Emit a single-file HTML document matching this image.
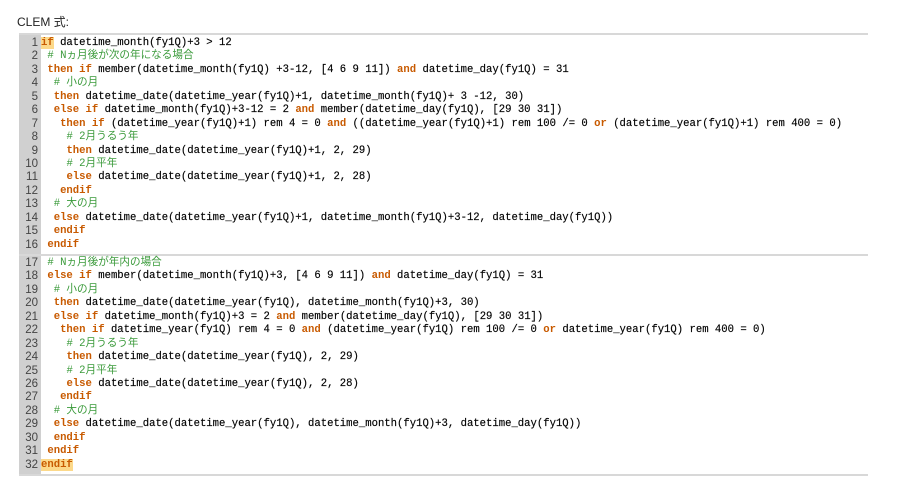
<!DOCTYPE html>
<html><head><meta charset="utf-8"><style>
body{margin:0;background:#fff;width:900px;height:492px;position:relative;overflow:hidden}
.t{position:absolute;left:17px;top:13px;font:12px "Liberation Sans","Noto Sans CJK JP",sans-serif;color:#222}
.box{position:absolute;left:19px;top:33px;width:849px;border-top:2px solid #d8d8d8;border-bottom:2px solid #d8d8d8}
.blk{position:relative;background:linear-gradient(to right,#d0d0d0 0,#d0d0d0 22px,#fff 22px)}
.blk+.blk{border-top:2px solid #d8d8d8}
.l{position:relative;height:13.45px;padding-left:22px;font:10.6px/13.45px "Liberation Mono","Noto Sans CJK JP",monospace;white-space:pre;color:#000;-webkit-text-stroke:0.15px #000}
.n{position:absolute;left:0;top:0;width:19px;text-align:right;color:#444;font:11.5px/13.45px "Liberation Sans",sans-serif;-webkit-text-stroke:0}
.k{color:#c85a00;font-weight:bold;-webkit-text-stroke:0}
.c{color:#3a9a3a;-webkit-text-stroke:0}
.h{background:#fcd98a}
</style></head><body>
<div class="t">CLEM 式:</div>
<div class="box">
<div class="blk" style="padding-top:2px;padding-bottom:2px">
<div class="l"><span class="n">1</span><span class="k h">if</span> datetime_month(fy1Q)+3 &gt; 12</div>
<div class="l"><span class="n">2</span> <span class="c"># Nヵ月後が次の年になる場合</span></div>
<div class="l"><span class="n">3</span> <span class="k">then if</span> member(datetime_month(fy1Q) +3-12, [4 6 9 11]) <span class="k">and</span> datetime_day(fy1Q) = 31</div>
<div class="l"><span class="n">4</span>  <span class="c"># 小の月</span></div>
<div class="l"><span class="n">5</span>  <span class="k">then</span> datetime_date(datetime_year(fy1Q)+1, datetime_month(fy1Q)+ 3 -12, 30)</div>
<div class="l"><span class="n">6</span>  <span class="k">else if</span> datetime_month(fy1Q)+3-12 = 2 <span class="k">and</span> member(datetime_day(fy1Q), [29 30 31])</div>
<div class="l"><span class="n">7</span>   <span class="k">then if</span> (datetime_year(fy1Q)+1) rem 4 = 0 <span class="k">and</span> ((datetime_year(fy1Q)+1) rem 100 /= 0 <span class="k">or</span> (datetime_year(fy1Q)+1) rem 400 = 0)</div>
<div class="l"><span class="n">8</span>    <span class="c"># 2月うるう年</span></div>
<div class="l"><span class="n">9</span>    <span class="k">then</span> datetime_date(datetime_year(fy1Q)+1, 2, 29)</div>
<div class="l"><span class="n">10</span>    <span class="c"># 2月平年</span></div>
<div class="l"><span class="n">11</span>    <span class="k">else</span> datetime_date(datetime_year(fy1Q)+1, 2, 28)</div>
<div class="l"><span class="n">12</span>   <span class="k">endif</span></div>
<div class="l"><span class="n">13</span>  <span class="c"># 大の月</span></div>
<div class="l"><span class="n">14</span>  <span class="k">else</span> datetime_date(datetime_year(fy1Q)+1, datetime_month(fy1Q)+3-12, datetime_day(fy1Q))</div>
<div class="l"><span class="n">15</span>  <span class="k">endif</span></div>
<div class="l"><span class="n">16</span> <span class="k">endif</span></div>
</div>
<div class="blk" style="padding-top:1px;padding-bottom:2px">
<div class="l"><span class="n">17</span> <span class="c"># Nヵ月後が年内の場合</span></div>
<div class="l"><span class="n">18</span> <span class="k">else if</span> member(datetime_month(fy1Q)+3, [4 6 9 11]) <span class="k">and</span> datetime_day(fy1Q) = 31</div>
<div class="l"><span class="n">19</span>  <span class="c"># 小の月</span></div>
<div class="l"><span class="n">20</span>  <span class="k">then</span> datetime_date(datetime_year(fy1Q), datetime_month(fy1Q)+3, 30)</div>
<div class="l"><span class="n">21</span>  <span class="k">else if</span> datetime_month(fy1Q)+3 = 2 <span class="k">and</span> member(datetime_day(fy1Q), [29 30 31])</div>
<div class="l"><span class="n">22</span>   <span class="k">then if</span> datetime_year(fy1Q) rem 4 = 0 <span class="k">and</span> (datetime_year(fy1Q) rem 100 /= 0 <span class="k">or</span> datetime_year(fy1Q) rem 400 = 0)</div>
<div class="l"><span class="n">23</span>    <span class="c"># 2月うるう年</span></div>
<div class="l"><span class="n">24</span>    <span class="k">then</span> datetime_date(datetime_year(fy1Q), 2, 29)</div>
<div class="l"><span class="n">25</span>    <span class="c"># 2月平年</span></div>
<div class="l"><span class="n">26</span>    <span class="k">else</span> datetime_date(datetime_year(fy1Q), 2, 28)</div>
<div class="l"><span class="n">27</span>   <span class="k">endif</span></div>
<div class="l"><span class="n">28</span>  <span class="c"># 大の月</span></div>
<div class="l"><span class="n">29</span>  <span class="k">else</span> datetime_date(datetime_year(fy1Q), datetime_month(fy1Q)+3, datetime_day(fy1Q))</div>
<div class="l"><span class="n">30</span>  <span class="k">endif</span></div>
<div class="l"><span class="n">31</span> <span class="k">endif</span></div>
<div class="l"><span class="n">32</span><span class="k h">endif</span></div>
</div>
</div>
</body></html>
